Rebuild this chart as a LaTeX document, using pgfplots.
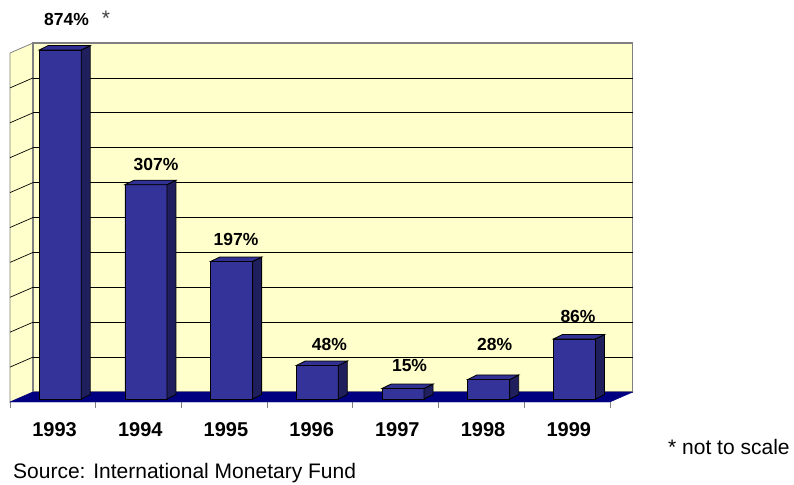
\documentclass[border=0pt]{standalone}
\usepackage{pgfplots}
\pgfplotsset{compat=1.18}
\usepackage{fontspec}
\setmainfont{Liberation Sans}
\definecolor{wall}{HTML}{FFFFCC}
\definecolor{barfront}{HTML}{333399}
\definecolor{barside}{HTML}{1F1F5E}
\definecolor{bartop}{HTML}{313194}
\definecolor{floorc}{HTML}{000080}
\definecolor{edge}{HTML}{808080}
\begin{document}
\begin{tikzpicture}
\useasboundingbox (-10bp,-86bp) rectangle (784bp,399bp);
\begin{axis}[at={(0,0)}, anchor=origin, x=85.7bp, y=0.698bp,
  xmin=0, xmax=7, ymin=-4.3, ymax=510, clip=false,
  axis x line*=bottom, axis y line=none, x axis line style={draw=none},
  xtick={0,...,7}, xticklabels={}, ytick=\empty,
  tick align=outside, major tick length=6bp, tick style={edge, line width=0.8pt}]
% side wall
\addplot[fill=wall, draw=edge, line width=0.8pt] coordinates {(0,-4.3) (0.268,10) (0.268,510) (0,495.7)} -- cycle;
% back wall
\addplot[fill=wall, draw=edge, line width=1.2pt] coordinates {(0.268,10) (7.268,10) (7.268,510) (0.268,510)} -- cycle;
% back wall gridlines
\pgfplotsinvokeforeach{60,110,160,210,260,310,360,410,460}{
  \addplot[black, line width=0.7pt] coordinates {(0.268,#1) (7.268,#1)};
}
% side wall gridlines
\addplot[black, line width=0.7pt] coordinates {(0,45.7) (0.268,60)};
\addplot[black, line width=0.7pt] coordinates {(0,95.7) (0.268,110)};
\addplot[black, line width=0.7pt] coordinates {(0,145.7) (0.268,160)};
\addplot[black, line width=0.7pt] coordinates {(0,195.7) (0.268,210)};
\addplot[black, line width=0.7pt] coordinates {(0,245.7) (0.268,260)};
\addplot[black, line width=0.7pt] coordinates {(0,295.7) (0.268,310)};
\addplot[black, line width=0.7pt] coordinates {(0,345.7) (0.268,360)};
\addplot[black, line width=0.7pt] coordinates {(0,395.7) (0.268,410)};
\addplot[black, line width=0.7pt] coordinates {(0,445.7) (0.268,460)};
% floor
\addplot[fill=floorc, draw=floorc] coordinates {(0,-4.3) (7,-4.3) (7.268,10) (0.268,10)} -- cycle;
% bar fronts (1993 drawn not to scale)
\addplot[ybar, bar width=42bp, bar shift=0pt, fill=barfront, draw=black, line width=0.8pt]
  coordinates {(0.586,500) (1.586,307) (2.586,197) (3.586,48) (4.586,15) (5.586,28) (6.586,86)};
% bar sides
\addplot[fill=barside, draw=black, line width=0.8pt] coordinates {(0.831,0) (0.936,6.4) (0.936,506.4) (0.831,500)} -- cycle;
\addplot[fill=barside, draw=black, line width=0.8pt] coordinates {(1.831,0) (1.936,6.4) (1.936,313.4) (1.831,307)} -- cycle;
\addplot[fill=barside, draw=black, line width=0.8pt] coordinates {(2.831,0) (2.936,6.4) (2.936,203.4) (2.831,197)} -- cycle;
\addplot[fill=barside, draw=black, line width=0.8pt] coordinates {(3.831,0) (3.936,6.4) (3.936,54.4) (3.831,48)} -- cycle;
\addplot[fill=barside, draw=black, line width=0.8pt] coordinates {(4.831,0) (4.936,6.4) (4.936,21.4) (4.831,15)} -- cycle;
\addplot[fill=barside, draw=black, line width=0.8pt] coordinates {(5.831,0) (5.936,6.4) (5.936,34.4) (5.831,28)} -- cycle;
\addplot[fill=barside, draw=black, line width=0.8pt] coordinates {(6.831,0) (6.936,6.4) (6.936,92.4) (6.831,86)} -- cycle;
% bar tops
\addplot[fill=bartop, draw=black, line width=0.8pt] coordinates {(0.341,500) (0.446,506.4) (0.936,506.4) (0.831,500)} -- cycle;
\addplot[fill=bartop, draw=black, line width=0.8pt] coordinates {(1.341,307) (1.446,313.4) (1.936,313.4) (1.831,307)} -- cycle;
\addplot[fill=bartop, draw=black, line width=0.8pt] coordinates {(2.341,197) (2.446,203.4) (2.936,203.4) (2.831,197)} -- cycle;
\addplot[fill=bartop, draw=black, line width=0.8pt] coordinates {(3.341,48) (3.446,54.4) (3.936,54.4) (3.831,48)} -- cycle;
\addplot[fill=bartop, draw=black, line width=0.8pt] coordinates {(4.341,15) (4.446,21.4) (4.936,21.4) (4.831,15)} -- cycle;
\addplot[fill=bartop, draw=black, line width=0.8pt] coordinates {(5.341,28) (5.446,34.4) (5.936,34.4) (5.831,28)} -- cycle;
\addplot[fill=bartop, draw=black, line width=0.8pt] coordinates {(6.341,86) (6.446,92.4) (6.936,92.4) (6.831,86)} -- cycle;
% value labels
\addplot[draw=none, mark=none, point meta=explicit symbolic,
  nodes near coords={\pgfplotspointmeta\%},
  nodes near coords style={anchor=center, inner sep=0pt, font=\fontsize{17.5bp}{20bp}\selectfont\bfseries, text=black}]
  coordinates {(0.659,544.4) [874] (1.704,336.0) [307] (2.637,228.5) [197] (3.728,78.8) [48] (4.662,48.7) [15] (5.654,78.8) [28] (6.628,118.9) [86]};
% year labels
\addplot[draw=none, mark=none, point meta=explicit symbolic,
  nodes near coords={\pgfplotspointmeta},
  nodes near coords style={anchor=base, inner sep=0pt, font=\fontsize{20bp}{24bp}\selectfont\bfseries, text=black}]
  coordinates {(0.52,-54.4) [1993] (1.52,-54.4) [1994] (2.52,-54.4) [1995] (3.52,-54.4) [1996] (4.52,-54.4) [1997] (5.52,-54.4) [1998] (6.52,-54.4) [1999]};
\node[anchor=base, inner sep=0pt, font=\fontsize{21bp}{24bp}\selectfont, text=darkgray] at (axis cs:1.12,535.8) {*};
\node[anchor=base west, inner sep=0pt, font=\fontsize{21bp}{24bp}\selectfont] at (axis cs:7.678,-80.2) {* not to scale};
\node[anchor=base west, inner sep=0pt, font=\fontsize{21bp}{24bp}\selectfont] at (axis cs:0.035,-113.2) {Source: International Monetary Fund};
\end{axis}
\end{tikzpicture}
\end{document}
